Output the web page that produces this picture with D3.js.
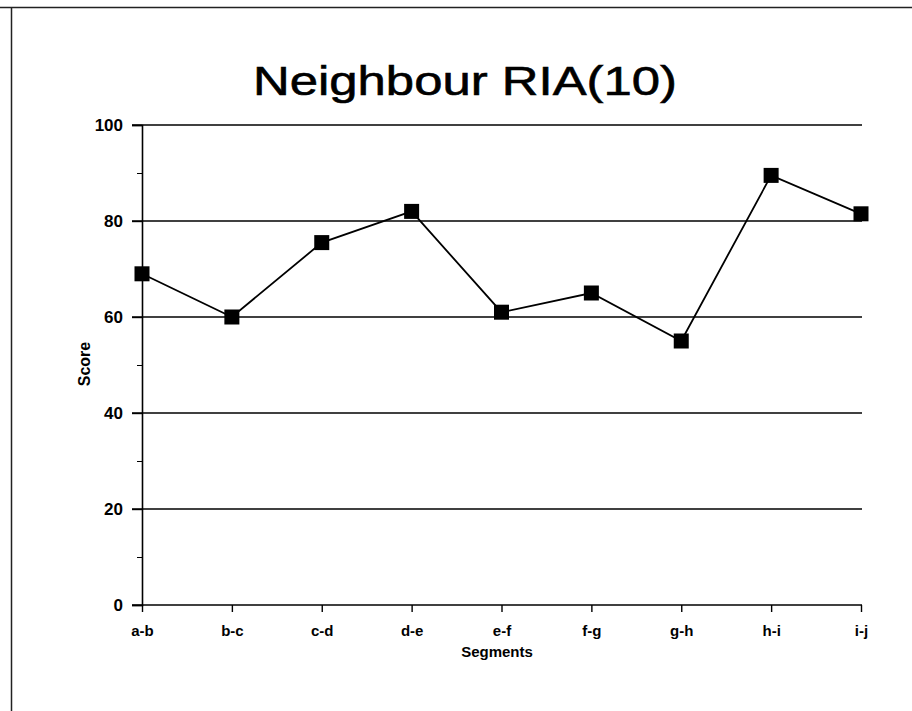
<!DOCTYPE html>
<html>
<head>
<meta charset="utf-8">
<script src="https://cdn.jsdelivr.net/npm/d3@7"></script>
<style>
  html, body { margin: 0; padding: 0; background: #fff; }
  svg { display: block; }
  text { font-family: Arial, "Liberation Sans", sans-serif; fill: #000; }
</style>
</head>
<body>
<svg id="chart" width="912" height="711"></svg>
<script>
const categories = ["a-b", "b-c", "c-d", "d-e", "e-f", "f-g", "g-h", "h-i", "i-j"];
const scores = [69, 60, 75.5, 82, 61, 65, 55, 89.5, 81.5];
const yTicks = [0, 20, 40, 60, 80, 100];
const yMinorTicks = [10, 30, 50, 70, 90];
const titleText = "Neighbour RIA(10)";
const xTitle = "Segments";
const yTitle = "Score";

(function () {
const svg = d3.select("#chart");
const pl = 142, pr = 861, pt = 125, pb = 605;

const x = d3.scalePoint().domain(categories).range([pl, pr]);
const y = d3.scaleLinear().domain([0, 100]).range([pb, pt]);

// frame
svg.append("line").attr("x1", 0).attr("x2", 912).attr("y1", 7.5).attr("y2", 7.5)
  .attr("stroke", "#222").attr("stroke-width", 1.5);
svg.append("line").attr("x1", 11.5).attr("x2", 11.5).attr("y1", 7).attr("y2", 711)
  .attr("stroke", "#222").attr("stroke-width", 1.5);

// gridlines
svg.append("g").selectAll("line").data(yTicks.filter(d => d > 0)).join("line")
  .attr("x1", pl - 10).attr("x2", pr + 1)
  .attr("y1", d => y(d)).attr("y2", d => y(d))
  .attr("stroke", "#000").attr("stroke-width", 1.4);

// y axis
const yAxis = d3.axisLeft(y).tickValues(yTicks).tickSize(10).tickPadding(9).tickFormat(d3.format("d"));
const gy = svg.append("g").attr("transform", `translate(${pl},0)`).call(yAxis);
gy.select(".domain").attr("stroke", "#000").attr("stroke-width", 1.6);
gy.selectAll(".tick line").attr("stroke", "#000").attr("stroke-width", 1.4);
gy.selectAll(".tick text").style("font-size", "17px").style("font-weight", "bold")
  .style("font-family", "Arial, 'Liberation Sans', sans-serif");

const yMinor = d3.axisLeft(y).tickValues(yMinorTicks).tickSize(5).tickFormat("");
const gym = svg.append("g").attr("transform", `translate(${pl},0)`).call(yMinor);
gym.select(".domain").remove();
gym.selectAll(".tick line").attr("stroke", "#000").attr("stroke-width", 1);

// x axis
const xAxis = d3.axisBottom(x).tickSize(7).tickPadding(13).tickSizeOuter(0);
const gx = svg.append("g").attr("transform", `translate(0,${pb})`).call(xAxis);
gx.select(".domain").attr("d", `M${pl - 10},0H${pr + 1}`).attr("stroke", "#000").attr("stroke-width", 1.6);
gx.selectAll(".tick line").attr("stroke", "#000").attr("stroke-width", 1.4);
gx.selectAll(".tick text").style("font-size", "15px").style("font-weight", "bold")
  .style("font-family", "Arial, 'Liberation Sans', sans-serif");

// line
const line = d3.line().x((d, i) => x(categories[i])).y(d => y(d));
svg.append("path").datum(scores).attr("d", line)
  .attr("fill", "none").attr("stroke", "#000").attr("stroke-width", 1.8);

// markers
const ms = 15;
svg.append("g").selectAll("rect").data(scores).join("rect")
  .attr("x", (d, i) => x(categories[i]) - ms / 2)
  .attr("y", d => y(d) - ms / 2)
  .attr("width", ms).attr("height", ms).attr("fill", "#000");

// titles
svg.append("text").attr("x", 465).attr("y", 95).attr("text-anchor", "middle")
  .attr("textLength", 424).attr("lengthAdjust", "spacingAndGlyphs")
  .attr("stroke", "#000").attr("stroke-width", 0.6)
  .style("font-size", "41px").text(titleText);

svg.append("text").attr("x", 497).attr("y", 657).attr("text-anchor", "middle")
  .style("font-size", "15px").style("font-weight", "bold").text(xTitle);

svg.append("text").attr("transform", "translate(90,364) rotate(-90)").attr("text-anchor", "middle")
  .style("font-size", "16px").style("font-weight", "bold").text(yTitle);
})();
</script>
</body>
</html>
